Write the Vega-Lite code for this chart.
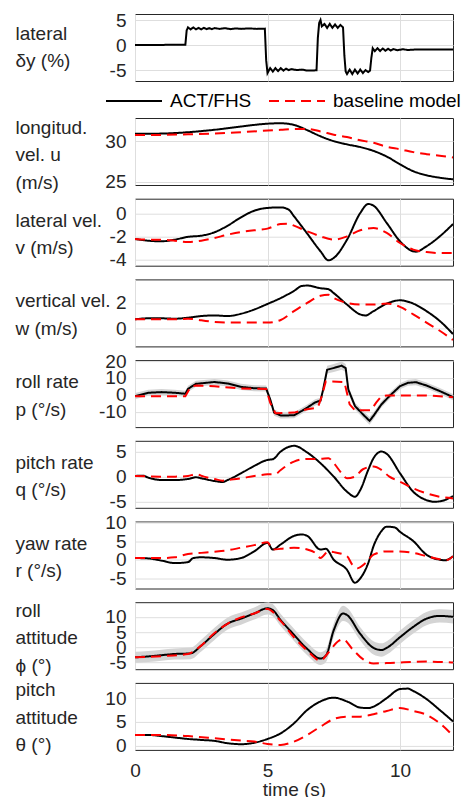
{
  "$schema": "https://vega.github.io/schema/vega-lite/v6.json",
  "padding": {"left": 14, "top": 10, "right": 5, "bottom": 5},
  "config": {
    "font": "Liberation Sans",
    "view": {"stroke": "#262626", "strokeWidth": 1},
    "axis": {"labelFont": "Liberation Sans", "titleFont": "Liberation Sans", "labelFontSize": 19, "titleFontSize": 19, "labelColor": "#262626", "titleColor": "#262626", "titleFontWeight": "normal", "gridColor": "#dedede", "gridWidth": 1, "ticks": false, "tickSize": 0, "domain": false, "labelOverlap": false, "labelFlush": false, "labelBound": false, "labelExpr": "'' + datum.value"},
    "axisY": {"titleAngle": 0, "titleAlign": "left", "titleBaseline": "middle", "titleX": -120, "titleY": 21.5, "titleLineHeight": 27.5, "labelPadding": 9, "grid": true},
    "axisX": {"grid": true}
  },
  "datasets": {
    "d1": [
      {"t":0,"s":"a","v":0.05},{"t":1.9,"s":"a","v":0.1},{"t":1.95,"s":"a","v":3.0},{"t":2.0,"s":"a","v":3.6},{"t":2.1,"s":"a","v":3.2},{"t":2.2,"s":"a","v":3.6},{"t":2.3,"s":"a","v":3.2},{"t":2.4,"s":"a","v":3.5},{"t":2.5,"s":"a","v":3.2},{"t":2.6,"s":"a","v":3.5},{"t":2.7,"s":"a","v":3.25},{"t":2.8,"s":"a","v":3.45},{"t":2.9,"s":"a","v":3.25},{"t":3.0,"s":"a","v":3.45},{"t":3.2,"s":"a","v":3.3},{"t":3.4,"s":"a","v":3.45},{"t":3.6,"s":"a","v":3.25},{"t":3.8,"s":"a","v":3.4},{"t":4.0,"s":"a","v":3.3},{"t":4.3,"s":"a","v":3.4},{"t":4.6,"s":"a","v":3.3},{"t":4.9,"s":"a","v":3.35},{"t":4.95,"s":"a","v":-3.0},{"t":5.0,"s":"a","v":-5.6},{"t":5.1,"s":"a","v":-4.6},{"t":5.2,"s":"a","v":-5.3},{"t":5.3,"s":"a","v":-4.6},{"t":5.4,"s":"a","v":-5.2},{"t":5.5,"s":"a","v":-4.6},{"t":5.6,"s":"a","v":-5.1},{"t":5.7,"s":"a","v":-4.7},{"t":5.8,"s":"a","v":-5.0},{"t":5.9,"s":"a","v":-4.8},{"t":6.1,"s":"a","v":-5.0},{"t":6.3,"s":"a","v":-4.9},{"t":6.5,"s":"a","v":-5.1},{"t":6.85,"s":"a","v":-5.05},{"t":6.9,"s":"a","v":1.5},{"t":6.95,"s":"a","v":4.5},{"t":7.0,"s":"a","v":5.1},{"t":7.05,"s":"a","v":3.8},{"t":7.15,"s":"a","v":4.3},{"t":7.25,"s":"a","v":3.5},{"t":7.35,"s":"a","v":4.3},{"t":7.45,"s":"a","v":3.5},{"t":7.55,"s":"a","v":4.2},{"t":7.65,"s":"a","v":3.5},{"t":7.75,"s":"a","v":4.1},{"t":7.85,"s":"a","v":3.6},{"t":7.9,"s":"a","v":-2.0},{"t":7.95,"s":"a","v":-5.3},{"t":8.0,"s":"a","v":-5.8},{"t":8.1,"s":"a","v":-4.9},{"t":8.2,"s":"a","v":-5.8},{"t":8.3,"s":"a","v":-4.9},{"t":8.4,"s":"a","v":-5.7},{"t":8.5,"s":"a","v":-4.9},{"t":8.6,"s":"a","v":-5.6},{"t":8.7,"s":"a","v":-5.0},{"t":8.8,"s":"a","v":-5.4},{"t":8.87,"s":"a","v":-5.1},{"t":8.92,"s":"a","v":-2.5},{"t":8.97,"s":"a","v":-0.6},{"t":9.05,"s":"a","v":-1.2},{"t":9.15,"s":"a","v":-0.6},{"t":9.25,"s":"a","v":-1.15},{"t":9.35,"s":"a","v":-0.65},{"t":9.45,"s":"a","v":-1.1},{"t":9.55,"s":"a","v":-0.7},{"t":9.65,"s":"a","v":-1.05},{"t":9.75,"s":"a","v":-0.75},{"t":9.9,"s":"a","v":-1.0},{"t":10.1,"s":"a","v":-0.8},{"t":10.3,"s":"a","v":-0.95},{"t":10.6,"s":"a","v":-0.85},{"t":12,"s":"a","v":-0.85}
    ],
    "d2": [
      {"t":0,"s":"a","v":30.9},{"t":1,"s":"a","v":30.93},{"t":2,"s":"a","v":31.1},{"t":3,"s":"a","v":31.4},{"t":4,"s":"a","v":31.8},{"t":4.5,"s":"a","v":32.0},{"t":5,"s":"a","v":32.15},{"t":5.5,"s":"a","v":32.2},{"t":6,"s":"a","v":32.0},{"t":6.5,"s":"a","v":31.35},{"t":7,"s":"a","v":30.6},{"t":7.5,"s":"a","v":30.0},{"t":8,"s":"a","v":29.6},{"t":8.5,"s":"a","v":29.27},{"t":9,"s":"a","v":28.8},{"t":9.5,"s":"a","v":28.1},{"t":10,"s":"a","v":27.15},{"t":10.5,"s":"a","v":26.3},{"t":11,"s":"a","v":25.8},{"t":11.5,"s":"a","v":25.5},{"t":12,"s":"a","v":25.3},
      {"t":0,"s":"b","v":30.77},{"t":1,"s":"b","v":30.77},{"t":2,"s":"b","v":30.85},{"t":3,"s":"b","v":30.93},{"t":4,"s":"b","v":31.1},{"t":5,"s":"b","v":31.3},{"t":5.5,"s":"b","v":31.4},{"t":6,"s":"b","v":31.5},{"t":6.5,"s":"b","v":31.5},{"t":7,"s":"b","v":31.2},{"t":7.5,"s":"b","v":30.8},{"t":8,"s":"b","v":30.5},{"t":8.5,"s":"b","v":30.1},{"t":9,"s":"b","v":29.8},{"t":9.5,"s":"b","v":29.3},{"t":10,"s":"b","v":29.0},{"t":10.5,"s":"b","v":28.65},{"t":11,"s":"b","v":28.4},{"t":11.5,"s":"b","v":28.2},{"t":12,"s":"b","v":28.0}
    ],
    "d3": [
      {"t":0,"s":"a","v":-2.19},{"t":0.5,"s":"a","v":-2.34},{"t":1,"s":"a","v":-2.39},{"t":1.5,"s":"a","v":-2.25},{"t":2,"s":"a","v":-2.0},{"t":2.5,"s":"a","v":-1.9},{"t":3,"s":"a","v":-1.6},{"t":3.5,"s":"a","v":-1.02},{"t":4,"s":"a","v":-0.29},{"t":4.5,"s":"a","v":0.29},{"t":5,"s":"a","v":0.53},{"t":5.5,"s":"a","v":0.58},{"t":5.8,"s":"a","v":0.38},{"t":6,"s":"a","v":-0.2},{"t":6.5,"s":"a","v":-1.72},{"t":7,"s":"a","v":-3.27},{"t":7.3,"s":"a","v":-4.06},{"t":7.5,"s":"a","v":-3.85},{"t":8,"s":"a","v":-2.25},{"t":8.5,"s":"a","v":0.09},{"t":8.8,"s":"a","v":0.88},{"t":9,"s":"a","v":0.73},{"t":9.5,"s":"a","v":-0.79},{"t":10,"s":"a","v":-2.39},{"t":10.5,"s":"a","v":-3.27},{"t":10.6,"s":"a","v":-3.3},{"t":11,"s":"a","v":-2.83},{"t":11.5,"s":"a","v":-1.96},{"t":12,"s":"a","v":-0.88},
      {"t":0,"s":"b","v":-2.19},{"t":0.5,"s":"b","v":-2.25},{"t":1,"s":"b","v":-2.25},{"t":1.5,"s":"b","v":-2.34},{"t":2,"s":"b","v":-2.45},{"t":2.5,"s":"b","v":-2.34},{"t":3,"s":"b","v":-2.1},{"t":3.5,"s":"b","v":-1.81},{"t":4,"s":"b","v":-1.58},{"t":4.5,"s":"b","v":-1.43},{"t":5,"s":"b","v":-1.28},{"t":5.5,"s":"b","v":-0.88},{"t":5.8,"s":"b","v":-0.85},{"t":6,"s":"b","v":-1.02},{"t":6.5,"s":"b","v":-1.52},{"t":7,"s":"b","v":-1.96},{"t":7.5,"s":"b","v":-2.25},{"t":8,"s":"b","v":-1.96},{"t":8.5,"s":"b","v":-1.43},{"t":9,"s":"b","v":-1.23},{"t":9.5,"s":"b","v":-1.66},{"t":10,"s":"b","v":-2.54},{"t":10.5,"s":"b","v":-3.12},{"t":11,"s":"b","v":-3.33},{"t":11.5,"s":"b","v":-3.42},{"t":12,"s":"b","v":-3.42}
    ],
    "d4": [
      {"t":0,"s":"a","v":0.7},{"t":0.5,"s":"a","v":0.78},{"t":1,"s":"a","v":0.78},{"t":1.5,"s":"a","v":0.75},{"t":2,"s":"a","v":0.83},{"t":2.5,"s":"a","v":0.96},{"t":3,"s":"a","v":1.01},{"t":3.5,"s":"a","v":0.96},{"t":4,"s":"a","v":1.14},{"t":4.5,"s":"a","v":1.48},{"t":5,"s":"a","v":1.92},{"t":5.5,"s":"a","v":2.39},{"t":6,"s":"a","v":2.96},{"t":6.3,"s":"a","v":3.35},{"t":6.5,"s":"a","v":3.38},{"t":7,"s":"a","v":3.17},{"t":7.3,"s":"a","v":3.09},{"t":7.5,"s":"a","v":2.78},{"t":8,"s":"a","v":1.87},{"t":8.5,"s":"a","v":1.09},{"t":8.7,"s":"a","v":1.01},{"t":9,"s":"a","v":1.35},{"t":9.5,"s":"a","v":1.95},{"t":10,"s":"a","v":2.21},{"t":10.5,"s":"a","v":1.95},{"t":11,"s":"a","v":1.35},{"t":11.5,"s":"a","v":0.57},{"t":12,"s":"a","v":-0.47},
      {"t":0,"s":"b","v":0.7},{"t":1,"s":"b","v":0.7},{"t":1.5,"s":"b","v":0.7},{"t":2,"s":"b","v":0.75},{"t":2.5,"s":"b","v":0.62},{"t":3,"s":"b","v":0.49},{"t":3.5,"s":"b","v":0.44},{"t":4,"s":"b","v":0.44},{"t":4.5,"s":"b","v":0.44},{"t":5,"s":"b","v":0.44},{"t":5.5,"s":"b","v":0.65},{"t":6,"s":"b","v":1.35},{"t":6.5,"s":"b","v":2.0},{"t":7,"s":"b","v":2.57},{"t":7.3,"s":"b","v":2.65},{"t":7.5,"s":"b","v":2.39},{"t":8,"s":"b","v":2.0},{"t":8.5,"s":"b","v":1.87},{"t":9,"s":"b","v":1.87},{"t":9.5,"s":"b","v":1.95},{"t":10,"s":"b","v":1.69},{"t":10.5,"s":"b","v":1.09},{"t":11,"s":"b","v":0.44},{"t":11.5,"s":"b","v":-0.21},{"t":12,"s":"b","v":-0.94}
    ],
    "d5": [
      {"t":0,"s":"a","v":-0.8},{"t":0.5,"s":"a","v":1.2},{"t":1,"s":"a","v":1.6},{"t":1.5,"s":"a","v":1.2},{"t":1.9,"s":"a","v":0.6},{"t":2.0,"s":"a","v":3.5},{"t":2.3,"s":"a","v":6.5},{"t":3.0,"s":"a","v":7.6},{"t":3.5,"s":"a","v":6.7},{"t":4.0,"s":"a","v":4.7},{"t":4.5,"s":"a","v":3.9},{"t":4.95,"s":"a","v":3.7},{"t":5.1,"s":"a","v":-2.7},{"t":5.25,"s":"a","v":-10.6},{"t":5.5,"s":"a","v":-12.3},{"t":6.0,"s":"a","v":-12.2},{"t":6.3,"s":"a","v":-9.5},{"t":6.5,"s":"a","v":-7.6},{"t":6.8,"s":"a","v":-4.5},{"t":7.0,"s":"a","v":-3.5},{"t":7.1,"s":"a","v":3.1},{"t":7.25,"s":"a","v":14.9},{"t":7.5,"s":"a","v":15.9},{"t":7.8,"s":"a","v":17.3},{"t":7.95,"s":"a","v":15.9},{"t":8.05,"s":"a","v":3.1},{"t":8.3,"s":"a","v":-6.7},{"t":8.6,"s":"a","v":-11.6},{"t":8.85,"s":"a","v":-15.5},{"t":9.0,"s":"a","v":-12.5},{"t":9.3,"s":"a","v":-5.7},{"t":9.6,"s":"a","v":-0.8},{"t":10.0,"s":"a","v":5.1},{"t":10.3,"s":"a","v":7.1},{"t":10.6,"s":"a","v":7.5},{"t":11.0,"s":"a","v":5.5},{"t":11.5,"s":"a","v":2.2},{"t":12.0,"s":"a","v":-1.4},
      {"t":0,"s":"b","v":-0.8},{"t":1.9,"s":"b","v":-0.8},{"t":2.1,"s":"b","v":4.7},{"t":2.3,"s":"b","v":5.5},{"t":3,"s":"b","v":5.1},{"t":4,"s":"b","v":3.7},{"t":4.95,"s":"b","v":3.5},{"t":5.1,"s":"b","v":-4.7},{"t":5.3,"s":"b","v":-11},{"t":6,"s":"b","v":-10.6},{"t":6.5,"s":"b","v":-8.6},{"t":6.9,"s":"b","v":-7.6},{"t":7.05,"s":"b","v":-0.8},{"t":7.2,"s":"b","v":8.0},{"t":7.9,"s":"b","v":7.6},{"t":8.1,"s":"b","v":-5.7},{"t":8.3,"s":"b","v":-9.2},{"t":8.9,"s":"b","v":-9.2},{"t":9.1,"s":"b","v":-4.7},{"t":9.3,"s":"b","v":-0.8},{"t":9.5,"s":"b","v":-0.4},{"t":11,"s":"b","v":-0.4},{"t":12,"s":"b","v":-1.4}
    ],
    "b5": [
      {"t":0,"lo":-2.6,"hi":1.0},{"t":0.5,"lo":-0.6,"hi":3.0},{"t":1,"lo":-0.2,"hi":3.4},{"t":1.5,"lo":-0.6,"hi":3.0},{"t":1.9,"lo":-1.2,"hi":2.4},{"t":2.0,"lo":1.7,"hi":5.3},{"t":2.3,"lo":4.7,"hi":8.3},{"t":3.0,"lo":5.8,"hi":9.4},{"t":3.5,"lo":4.9,"hi":8.5},{"t":4.0,"lo":2.9,"hi":6.5},{"t":4.5,"lo":2.1,"hi":5.7},{"t":4.95,"lo":1.9,"hi":5.5},{"t":5.1,"lo":-4.5,"hi":-0.9},{"t":5.25,"lo":-12.4,"hi":-8.8},{"t":5.5,"lo":-14.1,"hi":-10.5},{"t":6.0,"lo":-14.0,"hi":-10.4},{"t":6.3,"lo":-11.3,"hi":-7.7},{"t":6.5,"lo":-9.4,"hi":-5.8},{"t":6.8,"lo":-6.3,"hi":-2.7},{"t":7.0,"lo":-5.3,"hi":-1.7},{"t":7.1,"lo":1.1,"hi":5.1},{"t":7.25,"lo":12.6,"hi":17.2},{"t":7.5,"lo":13.5,"hi":18.3},{"t":7.8,"lo":14.8,"hi":19.8},{"t":7.95,"lo":13.5,"hi":18.3},{"t":8.05,"lo":1.1,"hi":5.1},{"t":8.3,"lo":-8.7,"hi":-4.7},{"t":8.6,"lo":-13.8,"hi":-9.4},{"t":8.85,"lo":-17.8,"hi":-13.2},{"t":9.0,"lo":-14.6,"hi":-10.4},{"t":9.3,"lo":-7.6,"hi":-3.8},{"t":9.6,"lo":-2.6,"hi":1.0},{"t":10.0,"lo":3.3,"hi":6.9},{"t":10.3,"lo":5.3,"hi":8.9},{"t":10.6,"lo":5.7,"hi":9.3},{"t":11.0,"lo":3.7,"hi":7.3},{"t":11.5,"lo":0.4,"hi":4.0},{"t":12.0,"lo":-3.2,"hi":0.4}
    ],
    "d6": [
      {"t":0,"s":"a","v":0.13},{"t":0.3,"s":"a","v":0.2},{"t":0.5,"s":"a","v":-0.2},{"t":1,"s":"a","v":-0.67},{"t":1.5,"s":"a","v":-0.67},{"t":2,"s":"a","v":-0.47},{"t":2.3,"s":"a","v":-0.13},{"t":2.5,"s":"a","v":-0.33},{"t":3,"s":"a","v":-0.87},{"t":3.3,"s":"a","v":-1.07},{"t":3.5,"s":"a","v":-0.67},{"t":4,"s":"a","v":0.67},{"t":4.5,"s":"a","v":2.13},{"t":5,"s":"a","v":3.33},{"t":5.2,"s":"a","v":3.47},{"t":5.5,"s":"a","v":5.0},{"t":6,"s":"a","v":6.13},{"t":6.5,"s":"a","v":4.8},{"t":7,"s":"a","v":2.67},{"t":7.5,"s":"a","v":0.0},{"t":8,"s":"a","v":-3.0},{"t":8.3,"s":"a","v":-4.0},{"t":8.5,"s":"a","v":-2.67},{"t":8.8,"s":"a","v":1.33},{"t":9,"s":"a","v":3.67},{"t":9.3,"s":"a","v":5.0},{"t":9.5,"s":"a","v":4.53},{"t":10,"s":"a","v":0.67},{"t":10.5,"s":"a","v":-3.0},{"t":11,"s":"a","v":-4.67},{"t":11.3,"s":"a","v":-5.0},{"t":11.6,"s":"a","v":-4.8},{"t":12,"s":"a","v":-3.87},
      {"t":0,"s":"b","v":0.13},{"t":1,"s":"b","v":0.0},{"t":1.5,"s":"b","v":0.0},{"t":2,"s":"b","v":0.13},{"t":2.3,"s":"b","v":0.47},{"t":2.6,"s":"b","v":0.0},{"t":3,"s":"b","v":-0.47},{"t":3.3,"s":"b","v":-0.8},{"t":3.5,"s":"b","v":-0.67},{"t":4,"s":"b","v":-0.33},{"t":4.5,"s":"b","v":0.13},{"t":5,"s":"b","v":0.47},{"t":5.3,"s":"b","v":0.53},{"t":5.5,"s":"b","v":1.33},{"t":6,"s":"b","v":3.0},{"t":6.5,"s":"b","v":3.53},{"t":7,"s":"b","v":3.53},{"t":7.3,"s":"b","v":3.67},{"t":7.5,"s":"b","v":2.67},{"t":7.8,"s":"b","v":0.67},{"t":8,"s":"b","v":-0.33},{"t":8.3,"s":"b","v":0.0},{"t":8.6,"s":"b","v":1.47},{"t":9,"s":"b","v":2.0},{"t":9.3,"s":"b","v":1.33},{"t":9.6,"s":"b","v":0.0},{"t":10,"s":"b","v":-1.0},{"t":10.5,"s":"b","v":-2.33},{"t":11,"s":"b","v":-3.33},{"t":11.5,"s":"b","v":-4.0},{"t":12,"s":"b","v":-4.33}
    ],
    "d7": [
      {"t":0,"s":"a","v":0.5},{"t":0.5,"s":"a","v":0.4},{"t":1,"s":"a","v":-0.2},{"t":1.5,"s":"a","v":-0.87},{"t":2,"s":"a","v":-0.6},{"t":2.2,"s":"a","v":0.5},{"t":2.5,"s":"a","v":0.7},{"t":3,"s":"a","v":0.5},{"t":3.5,"s":"a","v":0.05},{"t":4,"s":"a","v":0.5},{"t":4.5,"s":"a","v":2.3},{"t":5,"s":"a","v":4.6},{"t":5.2,"s":"a","v":2.8},{"t":5.5,"s":"a","v":4.2},{"t":6,"s":"a","v":6.5},{"t":6.3,"s":"a","v":6.9},{"t":6.5,"s":"a","v":6.5},{"t":7,"s":"a","v":2.8},{"t":7.2,"s":"a","v":3.0},{"t":7.5,"s":"a","v":0.05},{"t":8,"s":"a","v":-2.7},{"t":8.3,"s":"a","v":-6.2},{"t":8.5,"s":"a","v":-5.0},{"t":8.8,"s":"a","v":-0.87},{"t":9,"s":"a","v":3.7},{"t":9.3,"s":"a","v":7.8},{"t":9.5,"s":"a","v":9.0},{"t":9.8,"s":"a","v":8.8},{"t":10,"s":"a","v":7.6},{"t":10.5,"s":"a","v":5.1},{"t":11,"s":"a","v":1.4},{"t":11.5,"s":"a","v":0.05},{"t":11.7,"s":"a","v":-0.1},{"t":12,"s":"a","v":1.0},
      {"t":0,"s":"b","v":0.5},{"t":1,"s":"b","v":0.5},{"t":1.5,"s":"b","v":0.7},{"t":2,"s":"b","v":1.6},{"t":2.5,"s":"b","v":1.9},{"t":3,"s":"b","v":2.2},{"t":3.5,"s":"b","v":2.6},{"t":4,"s":"b","v":3.3},{"t":4.5,"s":"b","v":4.0},{"t":5,"s":"b","v":4.8},{"t":5.2,"s":"b","v":2.8},{"t":5.5,"s":"b","v":3.0},{"t":6,"s":"b","v":3.3},{"t":6.5,"s":"b","v":2.8},{"t":6.8,"s":"b","v":1.9},{"t":7,"s":"b","v":0.5},{"t":7.3,"s":"b","v":2.3},{"t":7.5,"s":"b","v":2.1},{"t":8,"s":"b","v":1.0},{"t":8.2,"s":"b","v":-1.3},{"t":8.4,"s":"b","v":-2.25},{"t":8.7,"s":"b","v":-0.87},{"t":9,"s":"b","v":1.4},{"t":9.5,"s":"b","v":2.3},{"t":10,"s":"b","v":2.3},{"t":10.5,"s":"b","v":1.9},{"t":11,"s":"b","v":1.0},{"t":11.5,"s":"b","v":0.2},{"t":11.8,"s":"b","v":0.05},{"t":12,"s":"b","v":1.0}
    ],
    "d8": [
      {"t":0,"s":"a","v":-3.3},{"t":0.5,"s":"a","v":-3.0},{"t":1,"s":"a","v":-2.6},{"t":1.5,"s":"a","v":-2.2},{"t":2.1,"s":"a","v":-2.0},{"t":2.5,"s":"a","v":0.55},{"t":3,"s":"a","v":4.4},{"t":3.5,"s":"a","v":7.8},{"t":4,"s":"a","v":9.4},{"t":4.5,"s":"a","v":11.1},{"t":5,"s":"a","v":12.8},{"t":5.2,"s":"a","v":12.2},{"t":5.5,"s":"a","v":8.9},{"t":6,"s":"a","v":4.1},{"t":6.5,"s":"a","v":-0.55},{"t":7,"s":"a","v":-3.7},{"t":7.2,"s":"a","v":-2.8},{"t":7.5,"s":"a","v":5.6},{"t":7.85,"s":"a","v":11.1},{"t":8,"s":"a","v":10.6},{"t":8.5,"s":"a","v":4.4},{"t":9,"s":"a","v":-0.2},{"t":9.3,"s":"a","v":-0.9},{"t":9.5,"s":"a","v":-0.2},{"t":10,"s":"a","v":3.3},{"t":10.5,"s":"a","v":6.7},{"t":11,"s":"a","v":9.4},{"t":11.5,"s":"a","v":10.3},{"t":12,"s":"a","v":10.0},
      {"t":0,"s":"b","v":-3.3},{"t":1,"s":"b","v":-2.9},{"t":2,"s":"b","v":-2.2},{"t":2.5,"s":"b","v":0.55},{"t":3,"s":"b","v":4.7},{"t":3.5,"s":"b","v":7.8},{"t":4,"s":"b","v":9.8},{"t":4.5,"s":"b","v":11.1},{"t":5,"s":"b","v":12.6},{"t":5.5,"s":"b","v":8.6},{"t":6,"s":"b","v":3.3},{"t":6.5,"s":"b","v":-1.1},{"t":7,"s":"b","v":-4.4},{"t":7.3,"s":"b","v":-1.7},{"t":7.7,"s":"b","v":2.2},{"t":7.85,"s":"b","v":2.6},{"t":8.2,"s":"b","v":-0.55},{"t":8.6,"s":"b","v":-3.9},{"t":9,"s":"b","v":-5.3},{"t":9.5,"s":"b","v":-5.2},{"t":10,"s":"b","v":-5.0},{"t":10.5,"s":"b","v":-4.8},{"t":11,"s":"b","v":-4.7},{"t":12,"s":"b","v":-5.0}
    ],
    "b8": [
      {"t":0,"lo":-5.1,"hi":-1.5},{"t":0.5,"lo":-4.8,"hi":-1.2},{"t":1,"lo":-4.4,"hi":-0.8},{"t":1.5,"lo":-4.0,"hi":-0.4},{"t":2.1,"lo":-3.9,"hi":-0.1},{"t":2.5,"lo":-1.4,"hi":2.5},{"t":3,"lo":2.4,"hi":6.4},{"t":3.5,"lo":5.8,"hi":9.8},{"t":4,"lo":7.4,"hi":11.4},{"t":4.5,"lo":9.1,"hi":13.1},{"t":5,"lo":10.8,"hi":14.8},{"t":5.2,"lo":10.2,"hi":14.2},{"t":5.5,"lo":6.9,"hi":10.9},{"t":6,"lo":2.1,"hi":6.1},{"t":6.5,"lo":-2.6,"hi":1.5},{"t":7,"lo":-5.8,"hi":-1.6},{"t":7.2,"lo":-4.9,"hi":-0.7},{"t":7.5,"lo":3.4,"hi":7.8},{"t":7.85,"lo":8.6,"hi":13.6},{"t":8,"lo":8.2,"hi":13.0},{"t":8.5,"lo":2.2,"hi":6.6},{"t":9,"lo":-2.4,"hi":2.0},{"t":9.3,"lo":-3.1,"hi":1.3},{"t":9.5,"lo":-2.4,"hi":2.0},{"t":10,"lo":1.1,"hi":5.5},{"t":10.5,"lo":4.5,"hi":8.9},{"t":11,"lo":7.2,"hi":11.6},{"t":11.5,"lo":8.1,"hi":12.5},{"t":12,"lo":7.8,"hi":12.2}
    ],
    "d9": [
      {"t":0,"s":"a","v":2.25},{"t":0.5,"s":"a","v":2.25},{"t":1,"s":"a","v":2.0},{"t":1.5,"s":"a","v":1.7},{"t":2,"s":"a","v":1.4},{"t":2.5,"s":"a","v":1.2},{"t":3,"s":"a","v":1.0},{"t":3.5,"s":"a","v":0.5},{"t":4,"s":"a","v":0.3},{"t":4.5,"s":"a","v":0.6},{"t":5,"s":"a","v":1.4},{"t":5.5,"s":"a","v":2.6},{"t":6,"s":"a","v":4.7},{"t":6.5,"s":"a","v":7.5},{"t":7,"s":"a","v":9.3},{"t":7.5,"s":"a","v":10.1},{"t":8,"s":"a","v":9.3},{"t":8.5,"s":"a","v":8.0},{"t":8.8,"s":"a","v":7.9},{"t":9,"s":"a","v":8.2},{"t":9.5,"s":"a","v":10.0},{"t":10,"s":"a","v":11.9},{"t":10.3,"s":"a","v":12.0},{"t":10.5,"s":"a","v":11.5},{"t":11,"s":"a","v":9.8},{"t":11.5,"s":"a","v":7.5},{"t":12,"s":"a","v":5.1},
      {"t":0,"s":"b","v":2.25},{"t":1,"s":"b","v":2.25},{"t":2,"s":"b","v":2.0},{"t":3,"s":"b","v":1.55},{"t":4,"s":"b","v":1.05},{"t":4.5,"s":"b","v":0.85},{"t":5,"s":"b","v":0.35},{"t":5.5,"s":"b","v":0.15},{"t":6,"s":"b","v":0.85},{"t":6.5,"s":"b","v":2.25},{"t":7,"s":"b","v":4.0},{"t":7.5,"s":"b","v":5.6},{"t":8,"s":"b","v":6.1},{"t":8.5,"s":"b","v":6.1},{"t":9,"s":"b","v":6.6},{"t":9.5,"s":"b","v":7.3},{"t":10,"s":"b","v":7.9},{"t":10.5,"s":"b","v":7.3},{"t":11,"s":"b","v":6.5},{"t":11.5,"s":"b","v":4.7},{"t":12,"s":"b","v":2.1}
    ]
  },
  "spacing": 37,
  "bounds": "flush",
  "resolve": {"scale": {"color": "independent", "strokeDash": "independent"}, "legend": {"color": "independent", "strokeDash": "independent"}},
  "vconcat": [
    {
      "width": 318, "height": 67,
      "data": {"name": "d1"},
      "mark": {"type": "line", "strokeWidth": 2, "clip": true},
      "encoding": {
        "x": {"field": "t", "type": "quantitative", "scale": {"domain": [0, 12], "nice": false}, "axis": {"values": [0, 5, 10], "labels": false, "title": null}},
        "y": {"field": "v", "type": "quantitative", "scale": {"domain": [-7.2, 6.3], "nice": false, "zero": false}, "axis": {"values": [-5, 0, 5], "title": ["lateral", "δy (%)"], "titleY": 19}},
        "color": {"field": "s", "type": "nominal", "scale": {"domain": ["a", "b"], "range": ["#000000", "#ff0000"]}, "legend": {"orient": "none", "legendX": -30, "legendY": 58, "direction": "horizontal", "title": null, "padding": 0, "symbolType": "stroke", "symbolSize": 3136, "symbolStrokeWidth": 2, "labelFont": "Liberation Sans", "labelFontSize": 19, "labelColor": "#000000", "labelOffset": 7, "columnPadding": 13, "labelExpr": "datum.value == 'a' ? 'ACT/FHS' : 'baseline model'"}},
        "strokeDash": {"field": "s", "type": "nominal", "scale": {"domain": ["a", "b"], "range": [[1, 0], [10, 6]]}, "legend": {"orient": "none", "legendX": -30, "legendY": 58, "direction": "horizontal", "title": null, "padding": 0, "symbolType": "stroke", "symbolSize": 3136, "symbolStrokeWidth": 2, "labelFont": "Liberation Sans", "labelFontSize": 19, "labelColor": "#000000", "labelOffset": 7, "columnPadding": 13, "labelExpr": "datum.value == 'a' ? 'ACT/FHS' : 'baseline model'"}}
      }
    },
    {
      "spacing": 13.7,
      "bounds": "flush",
      "resolve": {"scale": {"color": "independent", "strokeDash": "independent"}, "legend": {"color": "independent", "strokeDash": "independent"}},
      "vconcat": [
        {
          "width": 318, "height": 67,
          "data": {"name": "d2"},
          "mark": {"type": "line", "strokeWidth": 2, "interpolate": "monotone", "clip": true},
          "encoding": {
            "x": {"field": "t", "type": "quantitative", "scale": {"domain": [0, 12], "nice": false}, "axis": {"values": [0, 5, 10], "labels": false, "title": null}},
            "y": {"field": "v", "type": "quantitative", "scale": {"domain": [24.6, 32.85], "nice": false, "zero": false}, "axis": {"values": [25, 30], "title": ["longitud.", "vel. u", "(m/s)"], "titleY": 9}},
            "color": {"field": "s", "type": "nominal", "scale": {"domain": ["a", "b"], "range": ["#000000", "#ff0000"]}, "legend": null},
            "strokeDash": {"field": "s", "type": "nominal", "scale": {"domain": ["a", "b"], "range": [[1, 0], [10, 6]]}, "legend": null}
          }
        },
        {
          "width": 318, "height": 67,
          "data": {"name": "d3"},
          "mark": {"type": "line", "strokeWidth": 2, "interpolate": "monotone", "clip": true},
          "encoding": {
            "x": {"field": "t", "type": "quantitative", "scale": {"domain": [0, 12], "nice": false}, "axis": {"values": [0, 5, 10], "labels": false, "title": null}},
            "y": {"field": "v", "type": "quantitative", "scale": {"domain": [-4.53, 1.34], "nice": false, "zero": false}, "axis": {"values": [-4, -2, 0], "title": ["lateral vel.", "v (m/s)"]}},
            "color": {"field": "s", "type": "nominal", "scale": {"domain": ["a", "b"], "range": ["#000000", "#ff0000"]}, "legend": null},
            "strokeDash": {"field": "s", "type": "nominal", "scale": {"domain": ["a", "b"], "range": [[1, 0], [10, 6]]}, "legend": null}
          }
        },
        {
          "width": 318, "height": 67,
          "data": {"name": "d4"},
          "mark": {"type": "line", "strokeWidth": 2, "interpolate": "monotone", "clip": true},
          "encoding": {
            "x": {"field": "t", "type": "quantitative", "scale": {"domain": [0, 12], "nice": false}, "axis": {"values": [0, 5, 10], "labels": false, "title": null}},
            "y": {"field": "v", "type": "quantitative", "scale": {"domain": [-1.45, 3.87], "nice": false, "zero": false}, "axis": {"values": [0, 2], "title": ["vertical vel.", "w (m/s)"]}},
            "color": {"field": "s", "type": "nominal", "scale": {"domain": ["a", "b"], "range": ["#000000", "#ff0000"]}, "legend": null},
            "strokeDash": {"field": "s", "type": "nominal", "scale": {"domain": ["a", "b"], "range": [[1, 0], [10, 6]]}, "legend": null}
          }
        },
        {
          "width": 318, "height": 67,
          "layer": [
            {
              "data": {"name": "b5"},
              "mark": {"type": "area", "color": "#d4d4d4", "clip": true},
              "encoding": {
                "x": {"field": "t", "type": "quantitative", "scale": {"domain": [0, 12], "nice": false}, "axis": {"values": [0, 5, 10], "labels": false, "title": null}},
                "y": {"field": "lo", "type": "quantitative", "scale": {"domain": [-19.2, 20.6], "nice": false, "zero": false}, "axis": {"values": [-10, 0, 10, 20], "title": ["roll rate", "p (°/s)"]}},
                "y2": {"field": "hi"}
              }
            },
            {
              "data": {"name": "d5"},
              "mark": {"type": "line", "strokeWidth": 2, "clip": true},
              "encoding": {
                "x": {"field": "t", "type": "quantitative", "scale": {"domain": [0, 12], "nice": false}, "axis": {"values": [0, 5, 10], "labels": false, "title": null}},
                "y": {"field": "v", "type": "quantitative", "scale": {"domain": [-19.2, 20.6], "nice": false, "zero": false}, "axis": {"values": [-10, 0, 10, 20], "title": ["roll rate", "p (°/s)"]}},
                "color": {"field": "s", "type": "nominal", "scale": {"domain": ["a", "b"], "range": ["#000000", "#ff0000"]}, "legend": null},
                "strokeDash": {"field": "s", "type": "nominal", "scale": {"domain": ["a", "b"], "range": [[1, 0], [10, 6]]}, "legend": null}
              }
            }
          ]
        },
        {
          "width": 318, "height": 67,
          "data": {"name": "d6"},
          "mark": {"type": "line", "strokeWidth": 2, "interpolate": "monotone", "clip": true},
          "encoding": {
            "x": {"field": "t", "type": "quantitative", "scale": {"domain": [0, 12], "nice": false}, "axis": {"values": [0, 5, 10], "labels": false, "title": null}},
            "y": {"field": "v", "type": "quantitative", "scale": {"domain": [-6.2, 7.13], "nice": false, "zero": false}, "axis": {"values": [-5, 0, 5], "title": ["pitch rate", "q (°/s)"]}},
            "color": {"field": "s", "type": "nominal", "scale": {"domain": ["a", "b"], "range": ["#000000", "#ff0000"]}, "legend": null},
            "strokeDash": {"field": "s", "type": "nominal", "scale": {"domain": ["a", "b"], "range": [[1, 0], [10, 6]]}, "legend": null}
          }
        },
        {
          "width": 318, "height": 67,
          "data": {"name": "d7"},
          "mark": {"type": "line", "strokeWidth": 2, "interpolate": "monotone", "clip": true},
          "encoding": {
            "x": {"field": "t", "type": "quantitative", "scale": {"domain": [0, 12], "nice": false}, "axis": {"values": [0, 5, 10], "labels": false, "title": null}},
            "y": {"field": "v", "type": "quantitative", "scale": {"domain": [-7.75, 10.4], "nice": false, "zero": false}, "axis": {"values": [-5, 0, 5, 10], "title": ["yaw rate", "r (°/s)"]}},
            "color": {"field": "s", "type": "nominal", "scale": {"domain": ["a", "b"], "range": ["#000000", "#ff0000"]}, "legend": null},
            "strokeDash": {"field": "s", "type": "nominal", "scale": {"domain": ["a", "b"], "range": [[1, 0], [10, 6]]}, "legend": null}
          }
        },
        {
          "width": 318, "height": 67,
          "layer": [
            {
              "data": {"name": "b8"},
              "mark": {"type": "area", "color": "#d4d4d4", "interpolate": "monotone", "clip": true},
              "encoding": {
                "x": {"field": "t", "type": "quantitative", "scale": {"domain": [0, 12], "nice": false}, "axis": {"values": [0, 5, 10], "labels": false, "title": null}},
                "y": {"field": "lo", "type": "quantitative", "scale": {"domain": [-7.2, 14.8], "nice": false, "zero": false}, "axis": {"values": [-5, 0, 5, 10], "title": ["roll", "attitude", "ϕ (°)"], "titleY": 8}},
                "y2": {"field": "hi"}
              }
            },
            {
              "data": {"name": "d8"},
              "mark": {"type": "line", "strokeWidth": 2, "interpolate": "monotone", "clip": true},
              "encoding": {
                "x": {"field": "t", "type": "quantitative", "scale": {"domain": [0, 12], "nice": false}, "axis": {"values": [0, 5, 10], "labels": false, "title": null}},
                "y": {"field": "v", "type": "quantitative", "scale": {"domain": [-7.2, 14.8], "nice": false, "zero": false}, "axis": {"values": [-5, 0, 5, 10], "title": ["roll", "attitude", "ϕ (°)"], "titleY": 8}},
                "color": {"field": "s", "type": "nominal", "scale": {"domain": ["a", "b"], "range": ["#000000", "#ff0000"]}, "legend": null},
                "strokeDash": {"field": "s", "type": "nominal", "scale": {"domain": ["a", "b"], "range": [[1, 0], [10, 6]]}, "legend": null}
              }
            }
          ]
        },
        {
          "width": 318, "height": 67,
          "data": {"name": "d9"},
          "mark": {"type": "line", "strokeWidth": 2, "interpolate": "monotone", "clip": true},
          "encoding": {
            "x": {"field": "t", "type": "quantitative", "scale": {"domain": [0, 12], "nice": false}, "axis": {"values": [0, 5, 10], "title": "time (s)", "labelPadding": 12, "titlePadding": 0}},
            "y": {"field": "v", "type": "quantitative", "scale": {"domain": [-0.9, 13.2], "nice": false, "zero": false}, "axis": {"values": [0, 5, 10], "title": ["pitch", "attitude", "θ (°)"], "titleY": 7}},
            "color": {"field": "s", "type": "nominal", "scale": {"domain": ["a", "b"], "range": ["#000000", "#ff0000"]}, "legend": null},
            "strokeDash": {"field": "s", "type": "nominal", "scale": {"domain": ["a", "b"], "range": [[1, 0], [10, 6]]}, "legend": null}
          }
        }
      ]
    }
  ]
}
